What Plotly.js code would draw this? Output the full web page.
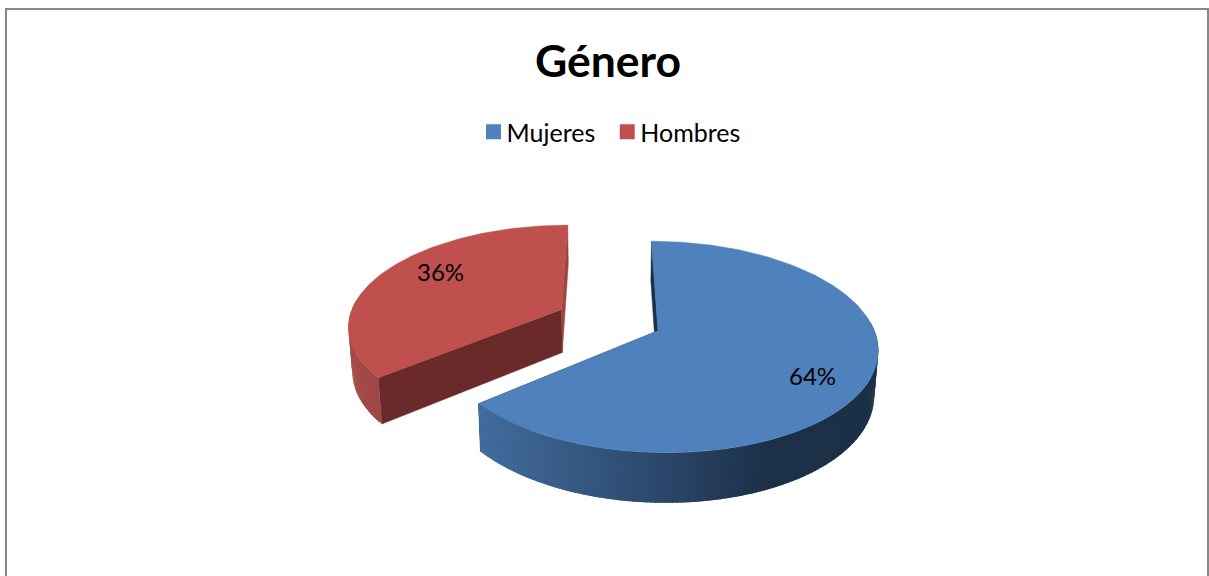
<!DOCTYPE html>
<html>
<head>
<meta charset="utf-8">
<script src="https://cdn.plot.ly/plotly-3.0.1.min.js"></script>
<style>
	html, body { margin: 0; padding: 0; background: #ffffff; overflow: hidden; }
	#plot { width: 1209px; height: 576px; }
</style>
</head>
<body>
<div id="plot"></div>
<script>
const categories = ["Mujeres", "Hombres"];
const percentages = [64, 36];
const topColors = ["#4f81bd", "#c0504d"];
const startCutColors = ["#1c3048", "#6b2a2a"];
const endCutColors = ["#1c3048", "#9c4543"];

// Projection of the tilted pie onto the page, in pixels
const CENTER_X = 609;
const CENTER_Y = 320;
const RADIUS_X = 213;
const RADIUS_Y = 100;
const PERSPECTIVE = 0.15;
const EXPLODE = 0.25;
const WALL_HEIGHT = 43.5;
const WALL_SCALE = 0.985;
const STEP = 1;

// Wall shading across the page: [page x, r, g, b]
const wallStops = [
	[[478, 66, 108, 158], [650, 45, 74, 111], [770, 28, 48, 72], [880, 28, 48, 72]],
	[[345, 168, 76, 73], [385, 156, 69, 67]],
];

function project(px, py, lower) {
	const s = 1 / (1 + PERSPECTIVE * py);
	if (!lower) {
		return [CENTER_X + RADIUS_X * px * s, CENTER_Y - RADIUS_Y * py * s];
	}
	return [
		CENTER_X + RADIUS_X * px * s * WALL_SCALE,
		CENTER_Y - RADIUS_Y * py * s * WALL_SCALE + WALL_HEIGHT * s,
	];
}

function toRad(deg) {
	return (deg * Math.PI) / 180;
}

function rimPoint(slice, deg, lower) {
	const px = slice.ox + Math.sin(toRad(deg));
	const py = slice.oy + Math.cos(toRad(deg));
	return project(px, py, lower);
}

function polygon(points, color, lineWidth) {
	return {
		x: points.map((p) => p[0]).concat(points[0][0]),
		y: points.map((p) => p[1]).concat(points[0][1]),
		type: "scatter",
		mode: "lines",
		fill: "toself",
		fillcolor: color,
		line: { color: color, width: lineWidth },
		showlegend: false,
		hoverinfo: "skip",
	};
}

function wallColor(stops, x) {
	let i = 0;
	while (i < stops.length - 2 && x > stops[i + 1][0]) {
		i++;
	}
	const a = stops[i];
	const b = stops[i + 1];
	const t = Math.min(1, Math.max(0, (x - a[0]) / (b[0] - a[0])));
	const mix = [1, 2, 3].map((c) => Math.round(a[c] + (b[c] - a[c]) * t));
	return `rgb(${mix.join(",")})`;
}

// Slices run clockwise from twelve o'clock, each pushed out along its bisector
const total = percentages.reduce((sum, v) => sum + v, 0);
let angle = 0;
const slices = percentages.map((value, i) => {
	const start = angle;
	const end = angle + (value / total) * 360;
	angle = end;
	const mid = (start + end) / 2;
	return {
		index: i,
		start: start,
		end: end,
		ox: EXPLODE * Math.sin(toRad(mid)),
		oy: EXPLODE * Math.cos(toRad(mid)),
	};
});

function sliceTraces(slice) {
	const traces = [];
	const apexTop = project(slice.ox, slice.oy, false);
	const apexLow = project(slice.ox, slice.oy, true);

	// Cut faces along both radii, the outer wall paints over whatever should be hidden
	traces.push(
		polygon(
			[apexTop, rimPoint(slice, slice.start, false), rimPoint(slice, slice.start, true), apexLow],
			startCutColors[slice.index],
			0.5
		),
		polygon(
			[apexTop, rimPoint(slice, slice.end, false), rimPoint(slice, slice.end, true), apexLow],
			endCutColors[slice.index],
			0.5
		)
	);

	// Outer wall, narrow overlapping strips for the shading. Only the side facing us.
	for (let d = slice.start; d < slice.end; d += STEP) {
		if (Math.cos(toRad(d)) > 0.1) {
			continue;
		}
		const next = Math.min(d + STEP * 1.8, slice.end);
		const a = rimPoint(slice, d, false);
		const b = rimPoint(slice, next, false);
		const c = rimPoint(slice, next, true);
		const e = rimPoint(slice, d, true);
		traces.push(polygon([a, b, c, e], wallColor(wallStops[slice.index], a[0]), 0));
	}

	// Top face
	const top = [apexTop];
	for (let d = slice.start; d < slice.end; d += STEP) {
		top.push(rimPoint(slice, d, false));
	}
	top.push(rimPoint(slice, slice.end, false));
	traces.push(polygon(top, topColors[slice.index], 0.5));
	return traces;
}

// Back slice first so the front one paints over it
const pieTraces = sliceTraces(slices[1]).concat(sliceTraces(slices[0]));

const legendTraces = categories.map((name, i) => ({
	x: [null],
	y: [null],
	type: "scatter",
	mode: "markers",
	name: name,
	marker: { symbol: "square", size: 15, color: topColors[i] },
	hoverinfo: "skip",
}));

const labelPositions = [[812, 375], [440, 271]];

const layout = {
	width: 1209,
	height: 576,
	margin: { l: 0, r: 0, t: 0, b: 0 },
	paper_bgcolor: "#ffffff",
	plot_bgcolor: "#ffffff",
	font: { family: "Lato, sans-serif", color: "#000000" },
	title: {
		text: "<b>Género</b>",
		font: { family: "Lato, sans-serif", size: 44.5, color: "#000000" },
		x: 608 / 1209,
		xanchor: "center",
		y: 1 - 61 / 576,
		yanchor: "middle",
	},
	showlegend: true,
	legend: {
		orientation: "h",
		x: 606 / 1209,
		xanchor: "center",
		y: 1 - 132 / 576,
		yanchor: "middle",
		font: { family: "Lato, sans-serif", size: 25, color: "#000000" },
		bgcolor: "rgba(0,0,0,0)",
		itemclick: false,
		itemdoubleclick: false,
	},
	xaxis: { range: [0, 1209], visible: false, fixedrange: true },
	yaxis: { range: [576, 0], visible: false, fixedrange: true },
	shapes: [
		{
			type: "rect",
			xref: "paper",
			yref: "paper",
			x0: 6 / 1209,
			x1: 1208 / 1209,
			y0: -0.05,
			y1: 1 - 9 / 576,
			line: { color: "#888888", width: 2 },
		},
	],
	annotations: percentages.map((value, i) => ({
		x: labelPositions[i][0],
		y: labelPositions[i][1],
		xref: "x",
		yref: "y",
		text: `${value}%`,
		showarrow: false,
		font: { family: "Lato, sans-serif", size: 24, color: "#000000" },
	})),
};

const config = { staticPlot: true, displayModeBar: false };

Plotly.newPlot("plot", pieTraces.concat(legendTraces), layout, config).then(() => {
	// Legend swatches sit further from their text by default, close the gap
	document.querySelectorAll("#plot .legendsymbols").forEach((el) => {
		el.setAttribute("transform", "translate(7,0)");
	});
});
</script>
</body>
</html>
